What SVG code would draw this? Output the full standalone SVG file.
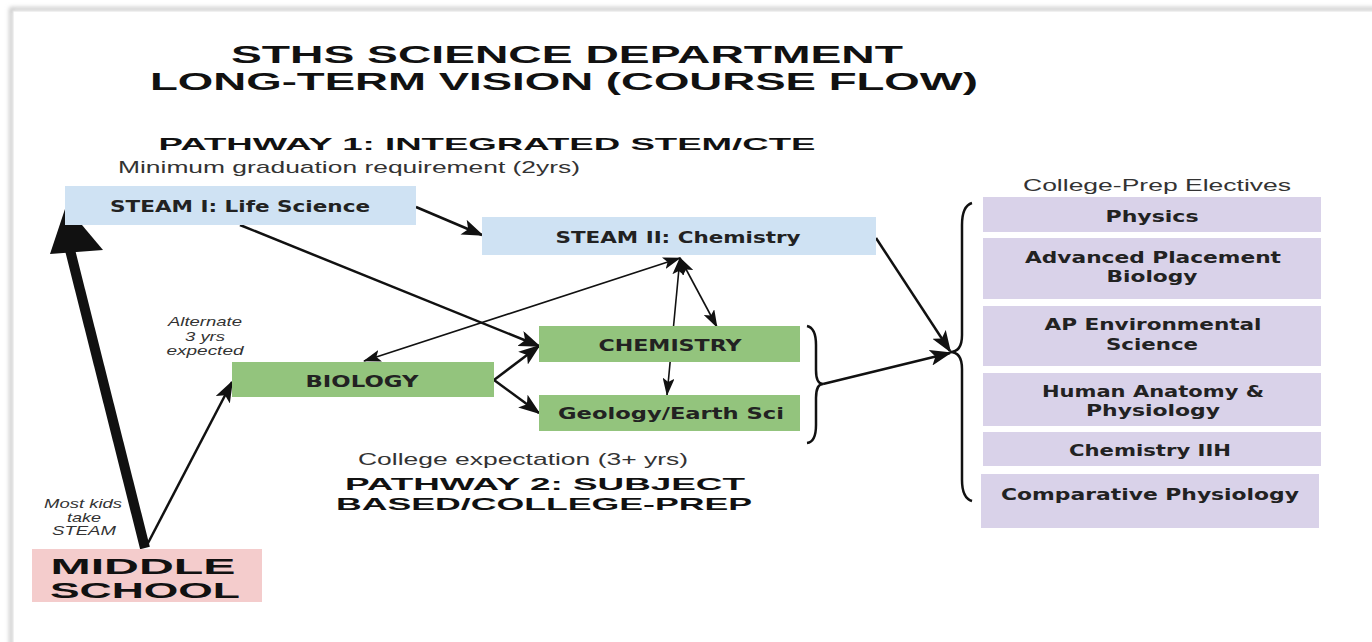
<svg xmlns="http://www.w3.org/2000/svg" width="1372" height="642" viewBox="0 0 1372 642">
<defs>
<marker id="ah" markerUnits="userSpaceOnUse" markerWidth="22" markerHeight="16" refX="20" refY="8" orient="auto"><path d="M0,0 L22,8 L0,16 L5,8 Z" fill="#111"/></marker>
<marker id="ahs" markerUnits="userSpaceOnUse" markerWidth="18" markerHeight="12" refX="17" refY="6" orient="auto-start-reverse"><path d="M0,0 L18,6 L0,12 L4,6 Z" fill="#111"/></marker>
<filter id="sh" x="-5%" y="-5%" width="110%" height="110%"><feGaussianBlur stdDeviation="2"/></filter>
</defs>
<style>
.title{font-family:"Liberation Sans",Arial,sans-serif;font-weight:bold;fill:#111;text-anchor:middle}
.sub{font-family:"Liberation Sans",Arial,sans-serif;fill:#333;text-anchor:middle;font-size:17px}
.lbl{font-family:"DejaVu Sans",Verdana,sans-serif;font-weight:bold;fill:#222;text-anchor:middle;font-size:16px}
.note{font-family:"Liberation Sans",Arial,sans-serif;font-style:italic;fill:#333;text-anchor:middle;font-size:13px}
.blue{fill:#cfe2f3}.green{fill:#93c47d}.pink{fill:#f4cccc}.lav{fill:#d9d2e9}
.ln{fill:none;stroke:#111;stroke-width:2.5}
.thin{fill:none;stroke:#111;stroke-width:1.6}
</style>
<rect width="1372" height="642" fill="#fff"/>
<g id="frame">
<rect x="11" y="9" width="1380" height="660" fill="none" stroke="#bbb" stroke-width="3" filter="url(#sh)"/>
<rect x="13" y="11" width="1380" height="660" fill="#fff" stroke="#e2e2e2" stroke-width="1"/>
</g>
<g id="titles">
<text class="title" x="567" y="63" font-size="23" textLength="672" lengthAdjust="spacingAndGlyphs">STHS SCIENCE DEPARTMENT</text>
<text class="title" x="564" y="90" font-size="23" textLength="828" lengthAdjust="spacingAndGlyphs">LONG-TERM VISION (COURSE FLOW)</text>
<text class="title" x="487" y="150" font-size="17" textLength="657" lengthAdjust="spacingAndGlyphs">PATHWAY 1:  INTEGRATED STEM/CTE</text>
<text class="sub" x="349" y="173" textLength="462" lengthAdjust="spacingAndGlyphs">Minimum graduation requirement (2yrs)</text>
<text class="sub" x="523" y="465" textLength="330" lengthAdjust="spacingAndGlyphs">College expectation (3+ yrs)</text>
<text class="title" x="545" y="490" font-size="17" textLength="400" lengthAdjust="spacingAndGlyphs">PATHWAY 2:  SUBJECT</text>
<text class="title" x="544" y="510" font-size="17" textLength="416" lengthAdjust="spacingAndGlyphs">BASED/COLLEGE-PREP</text>
<text class="sub" x="1157" y="191" textLength="268" lengthAdjust="spacingAndGlyphs">College-Prep Electives</text>
<text class="note" x="205" y="326" textLength="74" lengthAdjust="spacingAndGlyphs">Alternate</text>
<text class="note" x="205" y="341" textLength="40" lengthAdjust="spacingAndGlyphs">3 yrs</text>
<text class="note" x="205" y="355" textLength="77" lengthAdjust="spacingAndGlyphs">expected</text>
<text class="note" x="83" y="508" textLength="78" lengthAdjust="spacingAndGlyphs">Most kids</text>
<text class="note" x="84" y="522" textLength="34" lengthAdjust="spacingAndGlyphs">take</text>
<text class="note" x="84" y="535" textLength="64" lengthAdjust="spacingAndGlyphs">STEAM</text>
</g>
<g id="connectors">
<path d="M145,548 L70,250" fill="none" stroke="#111" stroke-width="10"/>
<polygon points="66,206 103,250 50,254" fill="#111"/>
<path class="ln" d="M147,545 L232,382" marker-end="url(#ah)"/>
<path class="ln" d="M416,207 L482,235" marker-end="url(#ah)"/>
<path class="ln" d="M240,225 L539,346" marker-end="url(#ah)"/>
<path class="thin" d="M364,361 L680,258" marker-start="url(#ahs)" marker-end="url(#ahs)"/>
<path class="thin" d="M667,395 L680,258" marker-start="url(#ahs)" marker-end="url(#ahs)"/>
<path class="thin" d="M717,327 L680,258" marker-start="url(#ahs)" marker-end="url(#ahs)"/>
<path class="ln" d="M494,380 L539,346" marker-end="url(#ah)"/>
<path class="ln" d="M494,380 L539,413" marker-end="url(#ah)"/>
<path class="ln" d="M876,238 L950,351" marker-end="url(#ah)"/>
<path class="ln" d="M823,384 L950,353" marker-end="url(#ah)"/>
<path class="ln" d="M807,326 Q816,328 816,345 L816,370 Q816,384 823,384 Q816,384 816,398 L816,425 Q816,442 807,443"/>
<path class="ln" d="M972,203 Q962,206 962,225 L962,335 Q962,352 950,352 Q962,352 962,369 L962,480 Q962,498 972,501"/>
</g>
<g id="steam1"><rect class="blue" x="65" y="186" width="351" height="39"/><text class="lbl" x="240" y="212" textLength="260" lengthAdjust="spacingAndGlyphs">STEAM I: Life Science</text></g>
<g id="steam2"><rect class="blue" x="482" y="217" width="394" height="38"/><text class="lbl" x="678" y="243" textLength="245" lengthAdjust="spacingAndGlyphs">STEAM II: Chemistry</text></g>
<g id="chemistry"><rect class="green" x="539" y="326" width="261" height="36"/><text class="lbl" x="670" y="351" textLength="143" lengthAdjust="spacingAndGlyphs">CHEMISTRY</text></g>
<g id="geology"><rect class="green" x="539" y="395" width="261" height="36"/><text class="lbl" x="671" y="419" textLength="226" lengthAdjust="spacingAndGlyphs">Geology/Earth Sci</text></g>
<g id="biology"><rect class="green" x="232" y="362" width="262" height="35"/><text class="lbl" x="362" y="387" textLength="113" lengthAdjust="spacingAndGlyphs">BIOLOGY</text></g>
<g id="middle-school"><rect class="pink" x="32" y="549" width="230" height="53"/>
<text class="title" x="143" y="574" font-size="22" textLength="185" lengthAdjust="spacingAndGlyphs">MIDDLE</text>
<text class="title" x="145" y="598" font-size="22" textLength="190" lengthAdjust="spacingAndGlyphs">SCHOOL</text></g>
<g id="physics"><rect class="lav" x="983" y="197" width="338" height="35"/><text class="lbl" x="1152" y="222" textLength="93" lengthAdjust="spacingAndGlyphs">Physics</text></g>
<g id="ap-bio"><rect class="lav" x="983" y="238" width="338" height="61"/><text class="lbl" x="1153" y="263" textLength="256" lengthAdjust="spacingAndGlyphs">Advanced Placement</text><text class="lbl" x="1152" y="282" textLength="91" lengthAdjust="spacingAndGlyphs">Biology</text></g>
<g id="apes"><rect class="lav" x="983" y="306" width="338" height="60"/><text class="lbl" x="1153" y="330" textLength="217" lengthAdjust="spacingAndGlyphs">AP Environmental</text><text class="lbl" x="1152" y="350" textLength="92" lengthAdjust="spacingAndGlyphs">Science</text></g>
<g id="anatomy"><rect class="lav" x="983" y="373" width="338" height="53"/><text class="lbl" x="1153" y="397" textLength="222" lengthAdjust="spacingAndGlyphs">Human Anatomy &amp;</text><text class="lbl" x="1153" y="416" textLength="134" lengthAdjust="spacingAndGlyphs">Physiology</text></g>
<g id="chem2h"><rect class="lav" x="983" y="432" width="338" height="34"/><text class="lbl" x="1150" y="456" textLength="162" lengthAdjust="spacingAndGlyphs">Chemistry IIH</text></g>
<g id="comp-phys"><rect class="lav" x="981" y="474" width="338" height="54"/><text class="lbl" x="1150" y="500" textLength="298" lengthAdjust="spacingAndGlyphs">Comparative Physiology</text></g>
</svg>
